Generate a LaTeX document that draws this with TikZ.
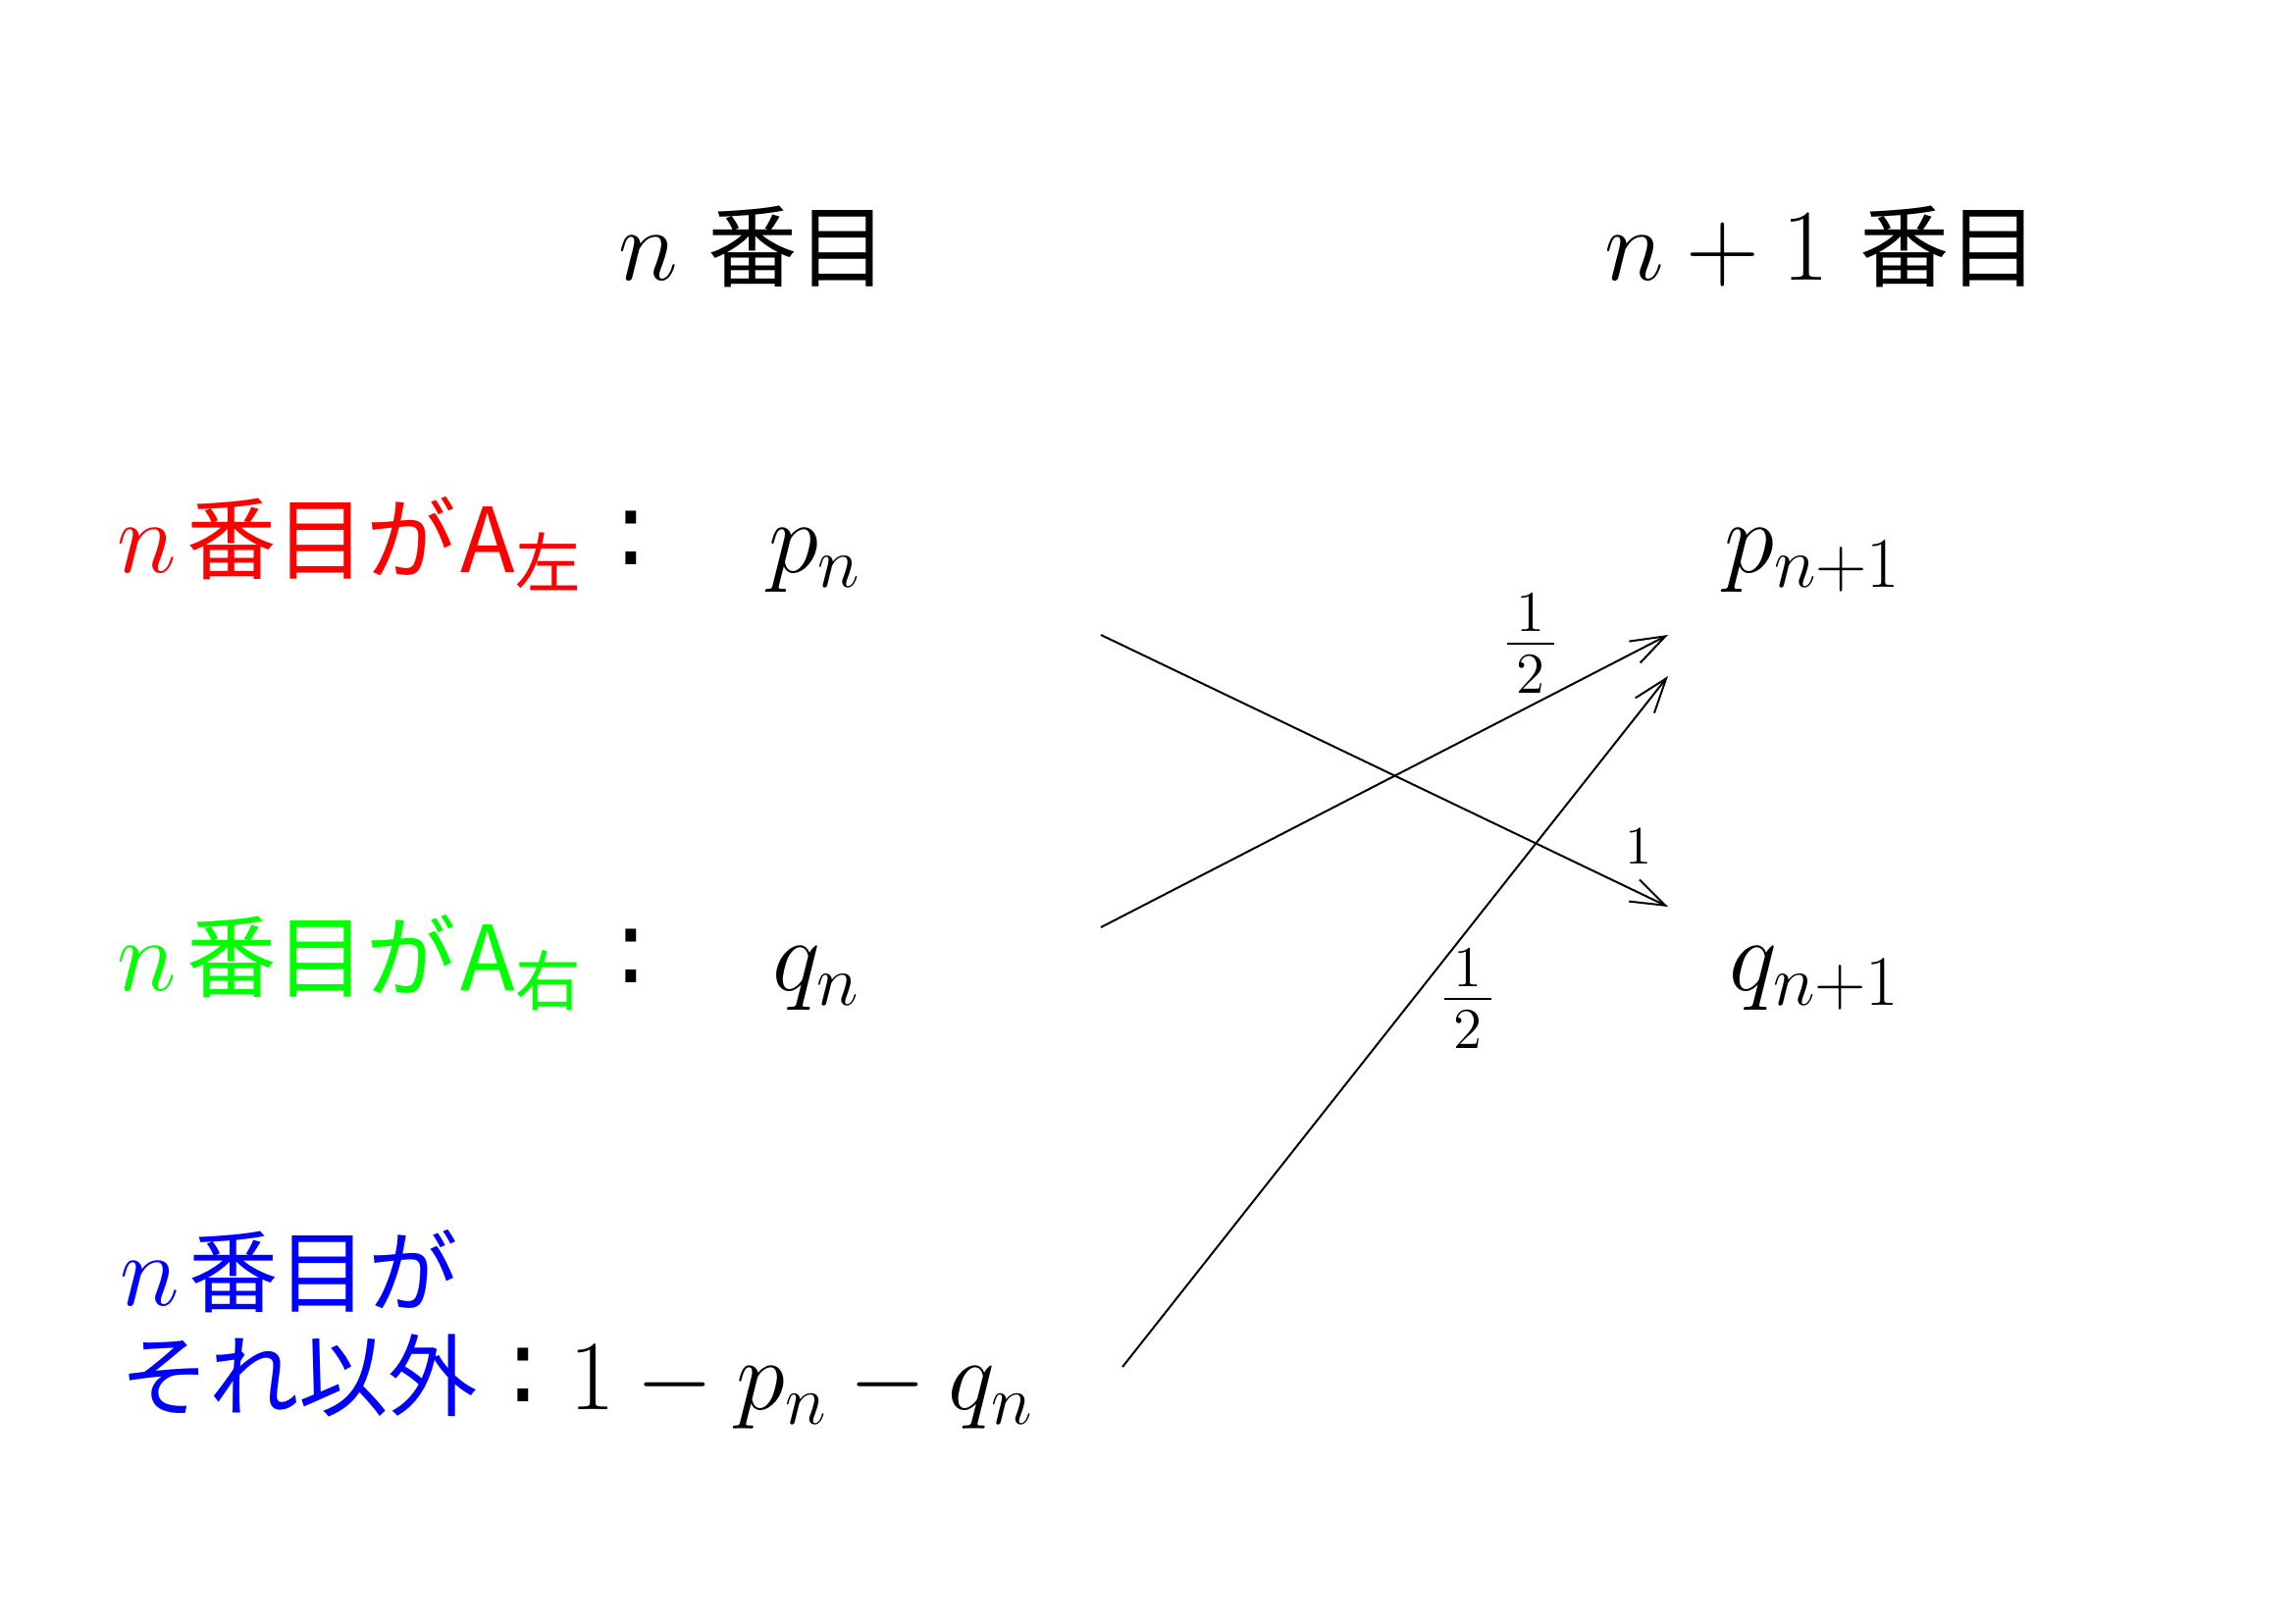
\RequirePackage{fix-cm}
\documentclass[tikz,border=0pt]{standalone}
\usepackage{fontspec}
\newfontfamily\cjk[Scale=0.88]{Noto Sans CJK JP}
\newfontfamily\colonfont{DejaVu Sans}
\usetikzlibrary{arrows.meta}
\definecolor{labred}{RGB}{255,0,0}
\definecolor{labgreen}{RGB}{0,255,0}
\definecolor{labblue}{RGB}{0,0,255}
\newcommand{\subkanji}[1]{\raisebox{-0.15cm}{\fontsize{21.5}{22}\selectfont\cjk #1}}
\begin{document}
\begin{tikzpicture}[x=0.01cm,y=-0.01cm,
  txt/.style={inner sep=0pt,outer sep=0pt,anchor=base west,font=\fontsize{29.5}{35}\selectfont},
  colon/.style={inner sep=0pt,outer sep=0pt,anchor=base,font=\fontsize{30}{34}\selectfont\colonfont},
  lbl/.style={inner sep=0pt,outer sep=0pt,anchor=center,font=\fontsize{15.7}{19}\selectfont},
  frc/.style={inner sep=0pt,outer sep=0pt,anchor=center,font=\fontsize{24}{28}\selectfont},
  conn/.style={line width=0.57pt,-{Straight Barb[length=10pt,width=7pt,line width=0.57pt]}}]
\path[use as bounding box] (0,0) rectangle (2339,1654);
% titles
\node[txt] (t1) at (630,285) {$n$ {\cjk 番目}};
\node[txt] (t2) at (1635,285) {$n+1$ {\cjk 番目}};
% row 1
\node[txt,text=labred] (r1) at (120,583) {$n$\kern0.1cm{\cjk 番目が\kern0.05cm A}\subkanji{左}};
\node[colon] (c1) at (643,575) {:};
\node[txt] (pn) at (783,583) {$p_n$};
\node[txt] (pn1) at (1757,583) {$p_{n+1}$};
% row 2
\node[txt,text=labgreen] (r2) at (120,1009) {$n$\kern0.1cm{\cjk 番目が\kern0.05cm A}\subkanji{右}};
\node[colon] (c2) at (643,1001) {:};
\node[txt] (qn) at (787,1009) {$q_n$};
\node[txt] (qn1) at (1762,1009) {$q_{n+1}$};
% row 3
\node[txt,text=labblue] (r3a) at (122,1330) {$n$\kern0.1cm{\cjk 番目が}};
\node[txt,text=labblue] (r3b) at (122,1436) {\cjk それ以外};
\node[colon] (c3) at (533,1428) {:};
\node[txt,font=\fontsize{28.8}{34}\selectfont] (rest) at (580,1436) {$1-p_n-q_n$};
% connectors
\coordinate (aS) at (1122,647);
\coordinate (aE) at (1700,924);
\coordinate (bS) at (1122,945);
\coordinate (bE) at (1700,647);
\coordinate (cS) at (1144,1393);
\coordinate (cE) at (1700,689);
\draw[conn] (aS) -- (aE);
\draw[conn] (bS) -- (bE);
\draw[conn] (cS) -- (cE);
\node[lbl] (la) at (1670,863) {$1$};
\node[frc] (lb) at (1560,656) {$\frac{\,1\,}{\,2\,}$};
\node[frc] (lc) at (1496,1018) {$\frac{\,1\,}{\,2\,}$};
\end{tikzpicture}
\end{document}
